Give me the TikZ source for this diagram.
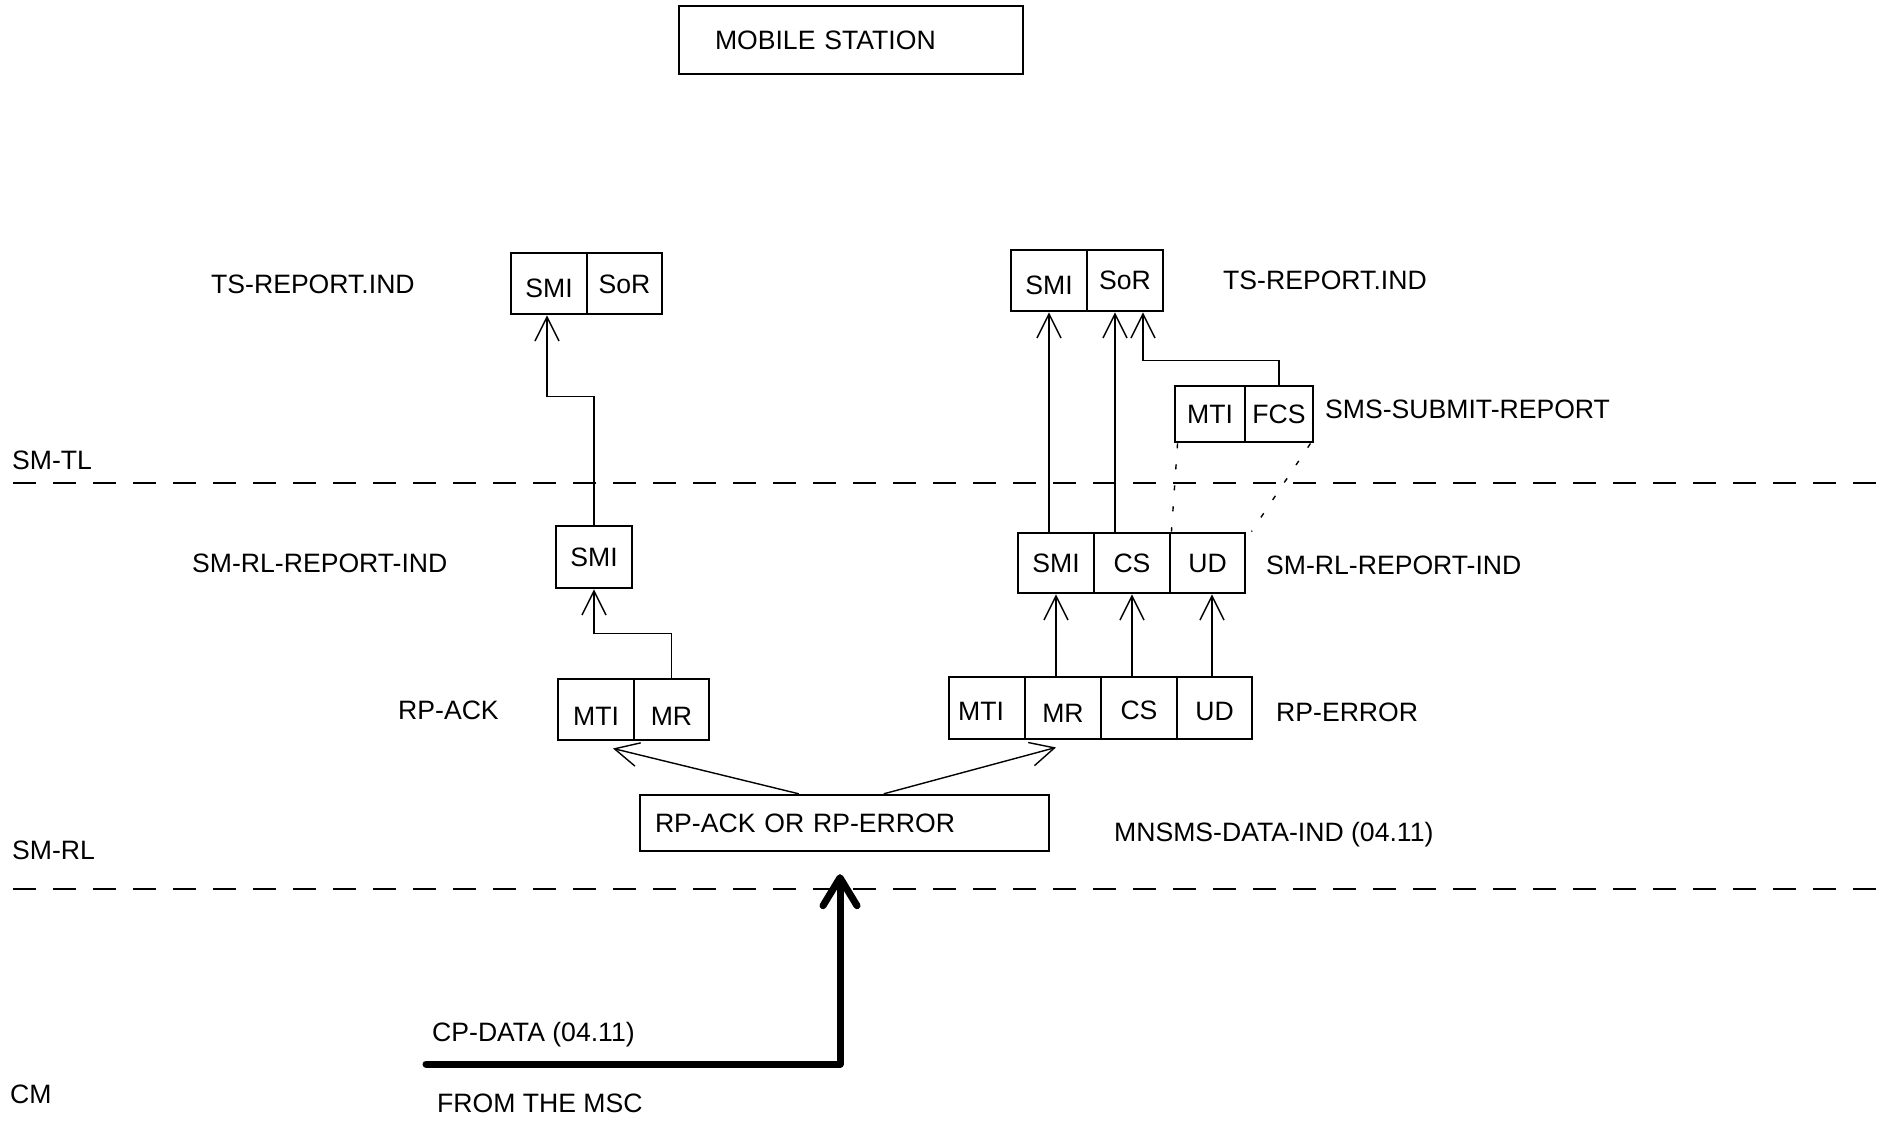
\documentclass[tikz,border=0pt]{standalone}
\usepackage{fontspec}
\setmainfont{Liberation Sans}
\usetikzlibrary{arrows.meta,calc}
\begin{document}
\begin{tikzpicture}[x=1pt,y=-1pt,
  every node/.style={font=\fontsize{26.6}{30}\selectfont},
  txt/.style={anchor=west,inner sep=0pt,text height=19pt,text depth=0pt},
  cell/.style={draw,line width=2.9pt,inner sep=0pt,text height=19pt,text depth=0pt,minimum height=61pt,minimum width=76pt},
  conn/.style={line width=1.4pt,-{Straight Barb[length=24pt,width=24pt]}},
  layerline/.style={line width=1.4pt,dash pattern=on 23pt off 17pt},
  dotline/.style={line width=1.4pt,dash pattern=on 5pt off 16pt},
  bigarrow/.style={line width=7pt,line cap=round,line join=round,-{Straight Barb[length=28pt,width=34pt,round]}}
]
\useasboundingbox (0,0) rectangle (1881,1123);

% title box
\node[draw,line width=1.4pt,minimum height=68pt,inner xsep=36pt,inner ysep=0pt,text width=272pt,align=left,text height=19pt,text depth=0pt] (ms) at (851,40) {MOBILE STATION};

% layer lines
\draw[layerline] (13,483) -- (1881,483);
\draw[layerline] (13,889) -- (1881,889);

% layer labels
\node[txt] (lsmtl) at (12,460) {SM-TL};
\node[txt] (lsmrl) at (12,850) {SM-RL};
\node[txt] (lcm) at (10,1094) {CM};

% left column
\node[cell] (tsLsmi) at (549,283.5) {\raisebox{-5pt}{SMI}};
\node[cell,minimum width=75pt] (tsLsor) at (624.5,283.5) {SoR};
\node[txt] (tsLlab) at (211,284) {TS-REPORT.IND};

\node[cell,minimum height=62pt] (rlLsmi) at (594,557) {SMI};
\node[txt] (rlLlab) at (192,563) {SM-RL-REPORT-IND};

\node[cell] (ackMti) at (596,709.5) {\raisebox{-6pt}{MTI}};
\node[cell,minimum width=75pt] (ackMr) at (671.5,709.5) {\raisebox{-6pt}{MR}};
\node[txt] (acklab) at (398,710) {RP-ACK};

% right column
\node[cell] (tsRsmi) at (1049,280.5) {\raisebox{-5pt}{SMI}};
\node[cell] (tsRsor) at (1125,280.5) {SoR};
\node[txt] (tsRlab) at (1223,280) {TS-REPORT.IND};

\node[cell,minimum width=70pt,minimum height=56pt] (subMti) at (1210,414) {MTI};
\node[cell,minimum width=68pt,minimum height=56pt] (subFcs) at (1279,414) {FCS};
\node[txt] (sublab) at (1325,409) {SMS-SUBMIT-REPORT};

\node[cell,minimum height=60pt] (rlSmi) at (1056,563) {SMI};
\node[cell,minimum height=60pt] (rlCs) at (1132,563) {CS};
\node[cell,minimum height=60pt,minimum width=75pt] (rlUd) at (1207.5,563) {UD};
\node[txt] (rlRlab) at (1266,565) {SM-RL-REPORT-IND};

\node[cell,minimum height=62pt] (errMti) at (987,708) {\hspace*{-12pt}\raisebox{-3pt}{MTI}};
\node[cell,minimum height=62pt] (errMr) at (1063,708) {\raisebox{-5pt}{MR}};
\node[cell,minimum height=62pt] (errCs) at (1139,708) {\raisebox{-2pt}{CS}};
\node[cell,minimum height=62pt,minimum width=75pt] (errUd) at (1214.5,708) {\raisebox{-3pt}{UD}};
\node[txt] (errlab) at (1276,712) {RP-ERROR};

% RP box
\node[draw,line width=2.4pt,minimum height=56pt,inner xsep=15pt,inner ysep=0pt,text width=379pt,align=left,text height=19pt,text depth=0pt] (rpbox) at (844.5,823) {RP-ACK OR RP-ERROR};
\node[txt] (mnlab) at (1114,832) {MNSMS-DATA-IND (04.11)};

\node[txt] (cplab) at (432,1032) {CP-DATA (04.11)};
\node[txt] (fromlab) at (437,1103) {FROM THE MSC};

% helper coordinates
\coordinate (rpL) at ($(rpbox.north west)+(160,0)$);
\coordinate (rpR) at ($(rpbox.north west)+(245,0)$);
\coordinate (ackTip) at ($(ackMti.south)+(17,7)$);
\coordinate (errTip) at ($(errMr.south)+(-7,7)$);
\coordinate (csUp) at ($(tsRsor.south)+(-10,0)$);
\coordinate (fcsUp) at ($(tsRsor.south)+(18,0)$);
\coordinate (cpStart) at (426,1064);
\coordinate (cpTip) at ($(rpbox.south)+(-4.5,22)$);

% connectors left
\draw[conn] (ackMr.north) -- ++(0,-44) -| (rlLsmi.south);
\draw[conn] (rlLsmi.north) -- ++(0,-128) -| ($(tsLsmi.south)+(-2,0)$);

% connectors from RP box
\draw[conn] (rpL) -- (ackTip);
\draw[conn] (rpR) -- (errTip);

% RP-ERROR to SM-RL-REPORT-IND
\draw[conn] (rlSmi.south |- errMr.north) -- (rlSmi.south);
\draw[conn] (rlCs.south |- errCs.north) -- (rlCs.south);
\draw[conn] ($(errUd.north)+(-2.5,0)$) -- ($(rlUd.south)+(4.5,0)$);

% SM-RL-REPORT-IND to TS-REPORT.IND
\draw[conn] (tsRsmi.south |- rlSmi.north) -- (tsRsmi.south);
\draw[conn] (csUp |- rlCs.north) -- (csUp);
\draw[conn] (subFcs.north) -- ++(0,-24) -| (fcsUp);

% dotted mapping
\draw[dotline] ($(subMti.south west)+(4,0)$) -- (rlCs.north east);
\draw[dotline] ($(subFcs.south east)+(-4,0)$) -- ($(rlUd.north east)+(5,0)$);

% thick arrow from MSC
\draw[bigarrow] (cpStart) -| (cpTip);
\end{tikzpicture}
\end{document}
